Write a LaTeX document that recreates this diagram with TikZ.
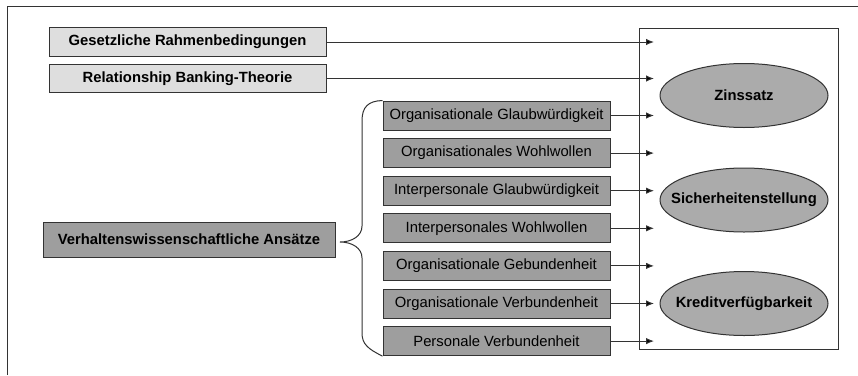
\documentclass[tikz,border=0pt]{standalone}
\usepackage{fontspec}
\setmainfont{Liberation Sans}
\usetikzlibrary{positioning,arrows.meta,shapes.geometric}
\tikzset{
  linie/.style={draw=black!80, line width=1pt},
  pfeil/.style={linie, -{Latex[length=8pt,width=6.5pt]}},
  kasten/.style={linie, inner sep=0pt, font=\fontsize{14.8}{17}\selectfont},
  hell/.style={kasten, fill=black!13, minimum width=277pt, minimum height=28.5pt, font=\fontsize{14.8}{17}\selectfont\bfseries},
  dunkel/.style={kasten, fill=black!38, minimum width=227pt, minimum height=29pt},
  oval/.style={linie, ellipse, fill=black!33, inner ysep=0pt, inner xsep=-20pt, minimum width=168pt, minimum height=64pt, font=\fontsize{14.8}{17}\selectfont\bfseries}
}

\begin{document}
\begin{tikzpicture}[x=1pt,y=-1pt,node distance=7.6pt]
  \useasboundingbox (0,0) rectangle (858,375);
  % Rahmen
  \draw[linie] (7,375) -- (7,6) -- (858,6);

  \node[linie, minimum width=199pt, minimum height=321pt] (ziel) at (738.5,188.5) {};
  \coordinate (ein) at (654,0);

  \node[hell] (gesetz) at (187.5,42) {Gesetzliche Rahmenbedingungen};
  \node[hell] (rbt) at (187.5,78.5) {Relationship Banking-Theorie};

  \node[dunkel] (og) at (496.5,115.5) {Organisationale Glaubwürdigkeit};
  \node[dunkel] (ow) [below=of og] {Organisationales Wohlwollen};
  \node[dunkel] (ig) [below=of ow] {Interpersonale Glaubwürdigkeit};
  \node[dunkel] (iw) [below=of ig] {Interpersonales Wohlwollen};
  \node[dunkel] (ogeb) [below=of iw] {Organisationale Gebundenheit};
  \node[dunkel] (over) [below=of ogeb] {Organisationale Verbundenheit};
  \node[dunkel] (pv) [below=of over] {Personale Verbundenheit};

  \node[kasten, fill=black!38, minimum width=292pt, minimum height=35pt,
        font=\fontsize{14.8}{17}\selectfont\bfseries] (verhalten) at (189,239.5) {Verhaltenswissenschaftliche Ansätze};

  \node[oval] (zins) at (744,95.5) {Zinssatz};
  \node[oval] (sicher) at (744,200) {Sicherheitenstellung};
  \node[oval] (kredit) at (744,303.5) {Kreditverfügbarkeit};

  % Klammer
  \draw[linie] (og.north west) .. controls (368,101) and (362,107) .. (362,121) -- (362,226)
     .. controls (362,236) and (352,242) .. (340,242)
     .. controls (352,242) and (362,248) .. (362,258) -- (362,333)
     .. controls (362,344) and (368,349) .. (pv.south west);

  \path[pfeil]
    (gesetz) edge (gesetz -| ein)
    (rbt) edge (rbt -| ein)
    (og) edge (og -| ein)
    (ow) edge (ow -| ein)
    (ig) edge (ig -| ein)
    (iw) edge (iw -| ein)
    (ogeb) edge (ogeb -| ein)
    (over) edge (over -| ein)
    (pv) edge (pv -| ein);
\end{tikzpicture}
\end{document}
